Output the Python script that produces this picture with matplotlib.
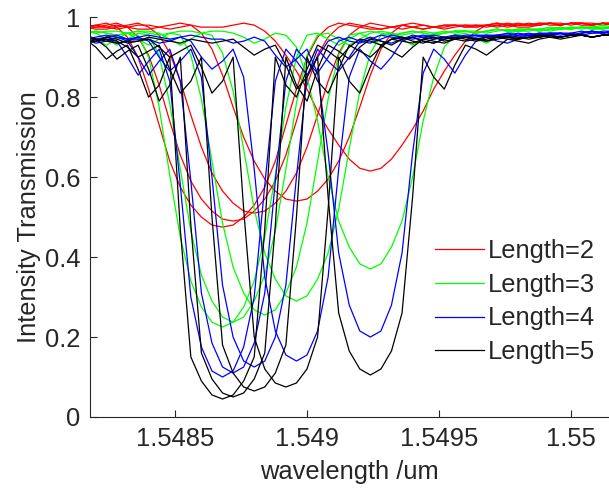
import matplotlib
matplotlib.use('Agg')
import matplotlib.pyplot as plt
from matplotlib.ticker import FixedLocator, FixedFormatter

plt.rcParams.update({
    'font.family': ['Liberation Sans', 'DejaVu Sans'],
    'font.size': 18.4,
    'text.color': '#262626',
    'axes.labelcolor': '#262626',
    'xtick.color': '#262626', 'ytick.color': '#262626',
    'xtick.direction': 'in', 'ytick.direction': 'in',
    'axes.linewidth': 0.8,
})

# wavelength grid (um)
wl = [1.54816, 1.54820, 1.54824, 1.54828, 1.54832, 1.54836, 1.54840, 1.54844,
      1.54848, 1.54852, 1.54856, 1.54860, 1.54864, 1.54868, 1.54872, 1.54876,
      1.54880, 1.54884, 1.54888, 1.54892, 1.54896, 1.54900, 1.54904, 1.54908,
      1.54912, 1.54916, 1.54920, 1.54924, 1.54928, 1.54932, 1.54936, 1.54940,
      1.54944, 1.54948, 1.54952, 1.54956, 1.54960, 1.54964, 1.54968, 1.54972,
      1.54976, 1.54980, 1.54984, 1.54988, 1.54992, 1.54996, 1.55000, 1.55004,
      1.55008, 1.55012, 1.55016]

# Length=2
len2 = [
    [0.975, 0.98, 0.985, 0.975, 0.95, 0.90, 0.82, 0.73, 0.64, 0.575, 0.53, 0.50, 0.48, 0.475,
     0.48, 0.50, 0.53, 0.575, 0.64, 0.73, 0.82, 0.90, 0.95, 0.975, 0.985, 0.98, 0.975, 0.97,
     0.97, 0.975, 0.98, 0.975, 0.97, 0.975, 0.98, 0.98, 0.975, 0.975, 0.98, 0.98, 0.975, 0.98,
     0.98, 0.985, 0.98, 0.98, 0.985, 0.98, 0.98, 0.985, 0.98],
    [0.97, 0.975, 0.98, 0.985, 0.975, 0.95, 0.905, 0.83, 0.74, 0.655, 0.59, 0.545, 0.515, 0.495,
     0.49, 0.495, 0.515, 0.545, 0.59, 0.655, 0.74, 0.83, 0.905, 0.95, 0.975, 0.985, 0.98, 0.975,
     0.97, 0.975, 0.98, 0.975, 0.97, 0.975, 0.98, 0.98, 0.975, 0.98, 0.98, 0.975, 0.98, 0.985,
     0.98, 0.98, 0.985, 0.98, 0.985, 0.985, 0.98, 0.985, 0.98],
    [0.975, 0.97, 0.97, 0.975, 0.98, 0.985, 0.975, 0.955, 0.91, 0.84, 0.755, 0.675, 0.61, 0.565,
     0.535, 0.515, 0.51, 0.515, 0.535, 0.565, 0.61, 0.675, 0.755, 0.84, 0.91, 0.955, 0.975, 0.985,
     0.98, 0.975, 0.97, 0.975, 0.98, 0.975, 0.975, 0.98, 0.98, 0.975, 0.98, 0.985, 0.98, 0.98,
     0.985, 0.98, 0.985, 0.985, 0.98, 0.985, 0.985, 0.98, 0.985],
    [0.98, 0.975, 0.975, 0.98, 0.975, 0.97, 0.97, 0.975, 0.98, 0.985, 0.98, 0.96, 0.92, 0.855,
     0.775, 0.70, 0.64, 0.595, 0.565, 0.545, 0.54, 0.545, 0.565, 0.595, 0.64, 0.70, 0.775, 0.855,
     0.92, 0.96, 0.98, 0.985, 0.98, 0.975, 0.97, 0.975, 0.98, 0.98, 0.975, 0.98, 0.985, 0.98,
     0.98, 0.985, 0.985, 0.98, 0.985, 0.985, 0.98, 0.985, 0.985],
    [0.975, 0.98, 0.975, 0.97, 0.975, 0.98, 0.98, 0.975, 0.97, 0.975, 0.98, 0.975, 0.975,
     0.975, 0.98, 0.985, 0.98, 0.965, 0.94, 0.905, 0.865, 0.82, 0.765, 0.72, 0.68, 0.645, 0.622,
     0.615, 0.622, 0.645, 0.68, 0.72, 0.765, 0.82, 0.865, 0.905, 0.94, 0.965, 0.98, 0.985, 0.98,
     0.975, 0.975, 0.98, 0.985, 0.98, 0.985, 0.985, 0.98, 0.985, 0.985],
]

# Length=3
len3 = [
    [0.96, 0.945, 0.93, 0.945, 0.96, 0.955, 0.90, 0.775, 0.605, 0.45, 0.34, 0.275, 0.237, 0.225,
     0.237, 0.275, 0.34, 0.45, 0.605, 0.775, 0.90, 0.955, 0.96, 0.945, 0.93, 0.945, 0.96, 0.965,
     0.96, 0.955, 0.96, 0.965, 0.96, 0.955, 0.96, 0.965, 0.965, 0.96, 0.965, 0.97, 0.965, 0.965,
     0.97, 0.97, 0.965, 0.97, 0.97, 0.975, 0.97, 0.97, 0.975],
    [0.965, 0.96, 0.945, 0.93, 0.945, 0.96, 0.955, 0.905, 0.785, 0.62, 0.465, 0.355, 0.29, 0.25,
     0.237, 0.25, 0.29, 0.355, 0.465, 0.62, 0.785, 0.905, 0.955, 0.96, 0.945, 0.93, 0.945, 0.96,
     0.965, 0.96, 0.955, 0.96, 0.965, 0.96, 0.96, 0.965, 0.965, 0.96, 0.965, 0.97, 0.965, 0.97,
     0.97, 0.965, 0.97, 0.97, 0.975, 0.97, 0.975, 0.975, 0.97],
    [0.965, 0.96, 0.965, 0.965, 0.96, 0.945, 0.93, 0.945, 0.96, 0.955, 0.905, 0.795, 0.64, 0.485,
     0.375, 0.31, 0.268, 0.255, 0.268, 0.31, 0.375, 0.485, 0.64, 0.795, 0.905, 0.955, 0.96, 0.945,
     0.93, 0.945, 0.96, 0.965, 0.96, 0.955, 0.96, 0.965, 0.965, 0.96, 0.965, 0.97, 0.965, 0.97,
     0.97, 0.965, 0.97, 0.975, 0.97, 0.975, 0.975, 0.97, 0.975],
    [0.96, 0.965, 0.96, 0.955, 0.96, 0.965, 0.965, 0.96, 0.945, 0.93, 0.945, 0.96, 0.955, 0.91,
     0.815, 0.67, 0.52, 0.41, 0.345, 0.303, 0.29, 0.303, 0.345, 0.41, 0.52, 0.67, 0.815, 0.91,
     0.955, 0.96, 0.945, 0.93, 0.945, 0.96, 0.965, 0.96, 0.965, 0.965, 0.96, 0.965, 0.97, 0.965,
     0.97, 0.97, 0.975, 0.97, 0.975, 0.975, 0.97, 0.975, 0.975],
    [0.96, 0.965, 0.96, 0.955, 0.96, 0.965, 0.96, 0.955, 0.96, 0.965, 0.965, 0.96, 0.965,
     0.965, 0.96, 0.95, 0.935, 0.945, 0.96, 0.955, 0.925, 0.85, 0.74, 0.60, 0.49, 0.425, 0.383,
     0.37, 0.383, 0.425, 0.49, 0.60, 0.74, 0.85, 0.925, 0.955, 0.96, 0.945, 0.935, 0.95, 0.96,
     0.965, 0.965, 0.97, 0.97, 0.975, 0.97, 0.975, 0.975, 0.98, 0.975],
]

# Length=4
len4 = [
    [0.935, 0.94, 0.95, 0.94, 0.90, 0.855, 0.89, 0.92, 0.84, 0.58, 0.30, 0.175, 0.115, 0.10,
     0.115, 0.175, 0.30, 0.58, 0.84, 0.92, 0.89, 0.855, 0.90, 0.94, 0.95, 0.94, 0.935, 0.945,
     0.955, 0.95, 0.945, 0.95, 0.955, 0.95, 0.945, 0.95, 0.955, 0.955, 0.95, 0.955, 0.96, 0.955,
     0.955, 0.96, 0.96, 0.955, 0.96, 0.965, 0.96, 0.96, 0.965],
    [0.945, 0.935, 0.94, 0.95, 0.94, 0.90, 0.855, 0.89, 0.92, 0.84, 0.59, 0.31, 0.185, 0.125,
     0.11, 0.125, 0.185, 0.31, 0.59, 0.84, 0.92, 0.89, 0.86, 0.90, 0.94, 0.95, 0.94, 0.935,
     0.945, 0.955, 0.95, 0.945, 0.95, 0.955, 0.95, 0.945, 0.95, 0.955, 0.955, 0.95, 0.955, 0.96,
     0.955, 0.955, 0.96, 0.96, 0.955, 0.96, 0.965, 0.96, 0.965],
    [0.95, 0.945, 0.945, 0.935, 0.94, 0.95, 0.94, 0.90, 0.865, 0.89, 0.92, 0.85, 0.60, 0.33,
     0.20, 0.14, 0.125, 0.14, 0.20, 0.33, 0.60, 0.85, 0.92, 0.89, 0.865, 0.90, 0.94, 0.95,
     0.94, 0.935, 0.945, 0.955, 0.95, 0.945, 0.95, 0.955, 0.95, 0.95, 0.955, 0.955, 0.95, 0.955,
     0.96, 0.955, 0.96, 0.96, 0.955, 0.96, 0.965, 0.96, 0.965],
    [0.95, 0.945, 0.95, 0.955, 0.945, 0.945, 0.945, 0.935, 0.94, 0.95, 0.94, 0.90, 0.87, 0.89,
     0.92, 0.85, 0.62, 0.35, 0.215, 0.155, 0.14, 0.155, 0.215, 0.35, 0.62, 0.85, 0.92, 0.89,
     0.87, 0.90, 0.94, 0.95, 0.94, 0.935, 0.945, 0.955, 0.95, 0.945, 0.95, 0.955, 0.955, 0.95,
     0.955, 0.96, 0.955, 0.96, 0.96, 0.955, 0.96, 0.965, 0.965],
    [0.945, 0.95, 0.955, 0.95, 0.945, 0.95, 0.955, 0.95, 0.945, 0.95, 0.955, 0.95, 0.945,
     0.945, 0.935, 0.94, 0.95, 0.94, 0.905, 0.875, 0.895, 0.92, 0.86, 0.66, 0.41, 0.28, 0.215,
     0.20, 0.215, 0.28, 0.41, 0.66, 0.86, 0.92, 0.895, 0.86, 0.905, 0.94, 0.95, 0.94, 0.935,
     0.945, 0.955, 0.95, 0.955, 0.96, 0.955, 0.96, 0.965, 0.96, 0.965],
]

# Length=5
len5 = [
    [0.945, 0.925, 0.895, 0.915, 0.93, 0.87, 0.80, 0.83, 0.90, 0.47, 0.15, 0.09, 0.055, 0.045,
     0.055, 0.09, 0.15, 0.47, 0.90, 0.83, 0.80, 0.87, 0.93, 0.915, 0.895, 0.925, 0.945, 0.94,
     0.93, 0.945, 0.95, 0.94, 0.935, 0.945, 0.95, 0.945, 0.94, 0.945, 0.95, 0.95, 0.945, 0.945,
     0.95, 0.955, 0.95, 0.95, 0.955, 0.955, 0.95, 0.955, 0.955],
    [0.94, 0.945, 0.925, 0.895, 0.915, 0.93, 0.87, 0.79, 0.83, 0.90, 0.48, 0.16, 0.095, 0.06,
     0.05, 0.06, 0.095, 0.16, 0.48, 0.90, 0.83, 0.79, 0.87, 0.93, 0.915, 0.895, 0.925, 0.945,
     0.94, 0.93, 0.945, 0.95, 0.94, 0.935, 0.945, 0.95, 0.945, 0.94, 0.945, 0.95, 0.95, 0.945,
     0.95, 0.95, 0.955, 0.95, 0.955, 0.955, 0.95, 0.955, 0.96],
    [0.935, 0.94, 0.945, 0.94, 0.925, 0.90, 0.915, 0.93, 0.87, 0.81, 0.84, 0.90, 0.50, 0.18,
     0.11, 0.075, 0.065, 0.075, 0.11, 0.18, 0.50, 0.90, 0.84, 0.81, 0.87, 0.93, 0.915, 0.90,
     0.925, 0.945, 0.94, 0.935, 0.945, 0.95, 0.94, 0.945, 0.95, 0.945, 0.94, 0.95, 0.95, 0.945,
     0.95, 0.955, 0.95, 0.95, 0.955, 0.955, 0.95, 0.955, 0.955],
    [0.95, 0.945, 0.94, 0.935, 0.94, 0.94, 0.945, 0.925, 0.90, 0.915, 0.93, 0.875, 0.81, 0.84,
     0.90, 0.52, 0.20, 0.12, 0.085, 0.075, 0.085, 0.12, 0.20, 0.52, 0.90, 0.84, 0.81, 0.875,
     0.93, 0.915, 0.90, 0.925, 0.945, 0.94, 0.935, 0.945, 0.95, 0.945, 0.94, 0.945, 0.95, 0.95,
     0.945, 0.95, 0.955, 0.95, 0.955, 0.955, 0.95, 0.955, 0.96],
    [0.945, 0.94, 0.95, 0.945, 0.935, 0.94, 0.95, 0.945, 0.94, 0.935, 0.945, 0.94, 0.935,
     0.94, 0.945, 0.925, 0.905, 0.92, 0.93, 0.88, 0.82, 0.85, 0.90, 0.55, 0.26, 0.165, 0.12,
     0.105, 0.12, 0.165, 0.26, 0.55, 0.90, 0.85, 0.82, 0.88, 0.93, 0.92, 0.905, 0.925, 0.945,
     0.94, 0.935, 0.945, 0.95, 0.945, 0.95, 0.955, 0.95, 0.955, 0.955],
]

groups = [('Length=2', '#ff0000', len2), ('Length=3', '#00ff00', len3),
          ('Length=4', '#0000ff', len4), ('Length=5', '#000000', len5)]

xticks = [1.5485, 1.549, 1.5495, 1.55]
xticklabels = ['1.5485', '1.549', '1.5495', '1.55']
yticks = [0, 0.2, 0.4, 0.6, 0.8, 1]
yticklabels = ['0', '0.2', '0.4', '0.6', '0.8', '1']

fig = plt.figure(figsize=(6.09, 4.90), dpi=100)
ax = fig.add_axes([0.1478, 0.149, 0.8522, 0.816])

for label, color, curves in groups:
    for k, T in enumerate(curves):
        ax.plot(wl, T, color=color, lw=0.9, label=label if k == 0 else None)

ax.set_xlim(1.548178, 1.550144)
ax.set_ylim(0, 1)
ax.xaxis.set_major_locator(FixedLocator(xticks))
ax.xaxis.set_major_formatter(FixedFormatter(xticklabels))
ax.yaxis.set_major_locator(FixedLocator(yticks))
ax.yaxis.set_major_formatter(FixedFormatter(yticklabels))
ax.tick_params(length=5, width=0.8, pad=7)
for s in ('top', 'right'):
    ax.spines[s].set_visible(False)
for s in ('left', 'bottom'):
    ax.spines[s].set_color('#262626')

ax.set_xlabel('wavelength /um', labelpad=7)
ax.set_ylabel('Intensity Transmission', labelpad=3)

ax.legend(loc='upper left', bbox_to_anchor=(0.665, 0.445), frameon=False,
          handlelength=1.9, handletextpad=0.15, labelspacing=0.38,
          borderpad=0, borderaxespad=0)

fig.savefig('out.png', dpi=100)
